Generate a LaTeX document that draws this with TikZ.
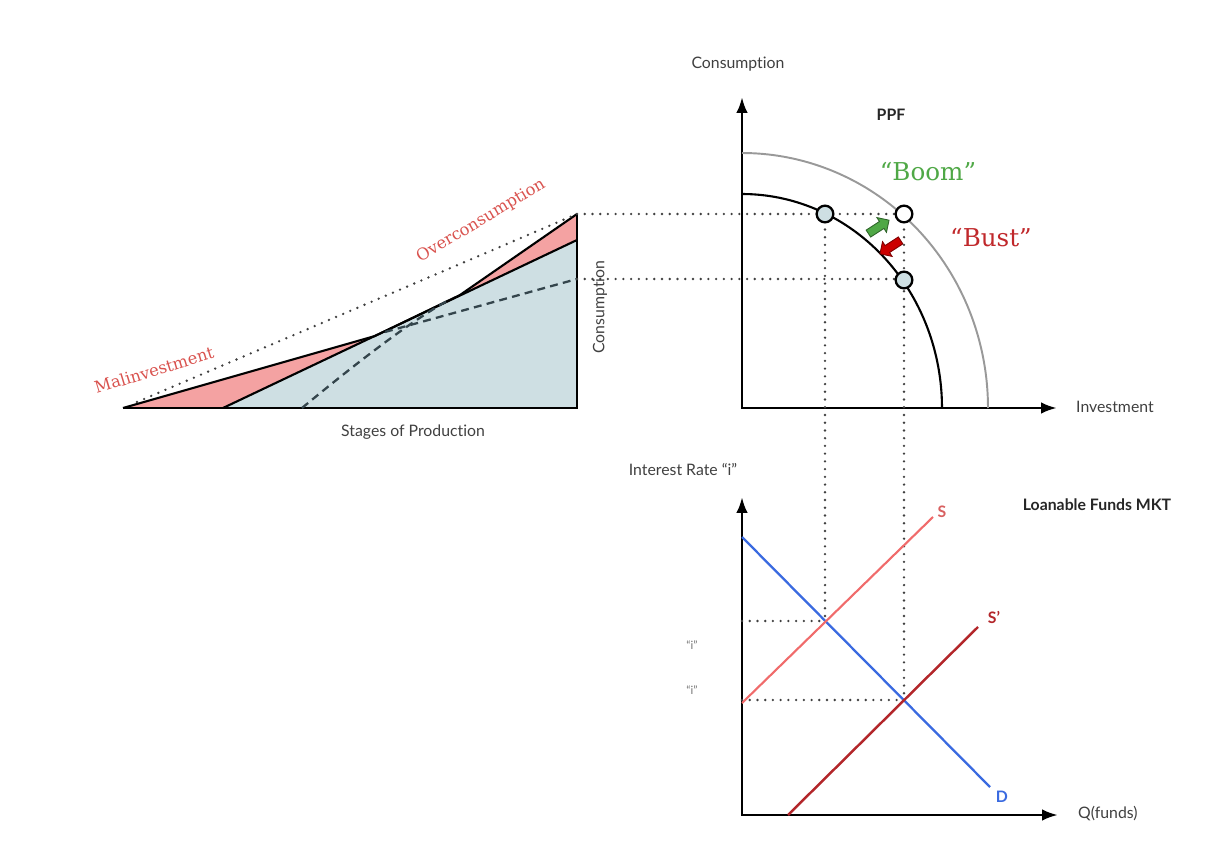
\documentclass[tikz,border=0pt]{standalone}
\usepackage{fontspec}
\setmainfont{Lato}[Ligatures=NoCommon]
\newfontfamily\quotefont{DejaVu Serif}
\usetikzlibrary{arrows.meta,shapes.arrows}

\definecolor{pinkfill}{HTML}{F4A2A2}
\definecolor{bluefill}{HTML}{CEDFE3}
\definecolor{labred}{HTML}{D9534F}
\definecolor{bustred}{HTML}{C0282B}
\definecolor{boomgreen}{HTML}{4FA846}
\definecolor{dblue}{HTML}{3A6AE0}
\definecolor{sred}{HTML}{F06B6B}
\definecolor{sdark}{HTML}{B3262A}
\definecolor{dashgray}{HTML}{34454C}

\tikzset{
  axis/.style={line width=1.6pt, {Latex[length=9pt,width=6.5pt]}-{Latex[length=9pt,width=6.5pt]}},
  guide/.style={line width=1.5pt, black!75, line cap=round, dash pattern=on 0pt off 4.4pt},
  dashline/.style={line width=1.3pt, dashgray, dash pattern=on 4.5pt off 3pt},
  edge/.style={line width=1.2pt, black},
  lbl/.style={font=\fontsize{9}{11}\selectfont, text=black!75},
  title/.style={font=\fontsize{9}{11}\selectfont\bfseries, text=black!85},
  redlbl/.style={font=\quotefont\fontsize{9.3}{11}\selectfont, text=labred},
  quote/.style={font=\quotefont\fontsize{14}{16}\selectfont},
  curvelbl/.style={font=\fontsize{9}{11}\selectfont\bfseries},
  ppfdot/.style={circle, draw, line width=1.3pt, minimum size=9.5pt, inner sep=0pt, fill=bluefill},
  shiftarrow/.style={single arrow, minimum height=14pt, minimum width=10pt,
    single arrow head extend=2.2pt, inner sep=1.7pt, line width=0.5pt}
}

\begin{document}
\begin{tikzpicture}[x=0.02cm, y=-0.02cm]
\useasboundingbox (0,0) rectangle (1211,858);

% stages of production
\coordinate (sp0) at (123,408);
\coordinate (sp1) at (223,408);
\coordinate (sp2) at (375,336);
\coordinate (sp3) at (460,295);
\coordinate (spc) at (577,408);
\coordinate (sptop) at (577,214);
\coordinate (spmid) at (577,240);
\coordinate (spcons) at (577,279);
\fill[pinkfill] (sp0) -- (sp2) -- (sp3) -- (sptop) -- (spc) -- cycle;
\fill[bluefill] (sp1) -- (spmid) -- (spc) -- cycle;
\draw[edge] (sp0) -- (sp2) -- (sp3) -- (sptop);
\draw[edge] (sp1) -- (spmid);
\draw[edge] (sp0) -- (spc) -- (sptop);
\draw[dashline] (302,408) .. controls (360,360) and (410,322) .. (447,301);
\draw[dashline] (385,332) -- (spcons);
\draw[guide] (137,402) -- (sptop);
\node[redlbl, rotate=17] (malinv) at (154,370) {Malinvestment};
\node[redlbl, rotate=31] (overc) at (481,221) {Overconsumption};
\node[lbl] (stages) at (413,432) {Stages of Production};
\node[lbl, rotate=90] (conssp) at (600,307) {Consumption};

% PPF
\coordinate (po) at (742,408);
\draw[axis] (742,97) -- (po) -- (1057,408);
\draw[black!40, line width=1.1pt] plot[smooth, samples=40, domain=0:90] ({742+246*cos(\x)},{408-255*sin(\x)});
\draw[edge] plot[smooth, samples=40, domain=0:90] ({742+200*cos(\x)},{408-214*sin(\x)});
\node[lbl] (consppf) at (738,64) {Consumption};
\node[title] (ppf) at (891,115) {PPF};
\node[lbl, anchor=west] (invest) at (1070,407) {Investment};
\node[quote, text=boomgreen] (boom) at (928,172) {“Boom”};
\node[quote, text=bustred] (bust) at (991,238) {“Bust”};
\node[shiftarrow, fill=boomgreen, draw=boomgreen!60!black, rotate=33] (up) at (877,228) {};
\node[shiftarrow, fill=red!80!black, draw=red!50!black, rotate=213] (down) at (892,246) {};

% loanable funds market
\coordinate (lo) at (742,815);
\draw[axis] (742,497) -- (lo) -- (1058,815);
\coordinate (e1) at (825,621);
\coordinate (e2) at (904,700);
\draw[guide] (spcons) -- (904,279);
\draw[guide] (sptop) -- (904,214);
\draw[guide] (825,214) -- (e1);
\draw[guide] (904,214) -- (e2);
\draw[guide] (742,621) -- (e1);
\draw[guide] (742,700) -- (e2);
\draw[dblue, line width=1.3pt] (742,537) -- (990,787);
\draw[sred, line width=1.2pt] (742,703) -- (933,517);
\draw[sdark, line width=1.4pt] (788,815) -- (978,627);
\node[ppfdot] (pa) at (825,214) {};
\node[ppfdot, fill=white] (pc) at (904,214) {};
\node[ppfdot] (pb) at (904,280) {};
\node[lbl] (rate) at (683,470) {Interest Rate “i”};
\node[title] (lfm) at (1097,505) {Loanable Funds MKT};
\node[lbl, anchor=west] (qf) at (1072,814) {Q(funds)};
\node[curvelbl, text=dblue] (dl) at (1002,797) {D};
\node[curvelbl, text=sred!90!black] (sl) at (942,512) {S};
\node[curvelbl, text=sdark] (sdl) at (994,617) {S'};
\node[font=\fontsize{6.5}{8}\selectfont, text=black!55] (i1) at (692,645) {“i”};
\node[font=\fontsize{6.5}{8}\selectfont, text=black!55] (i2) at (692,690) {“i”};
\end{tikzpicture}
\end{document}
